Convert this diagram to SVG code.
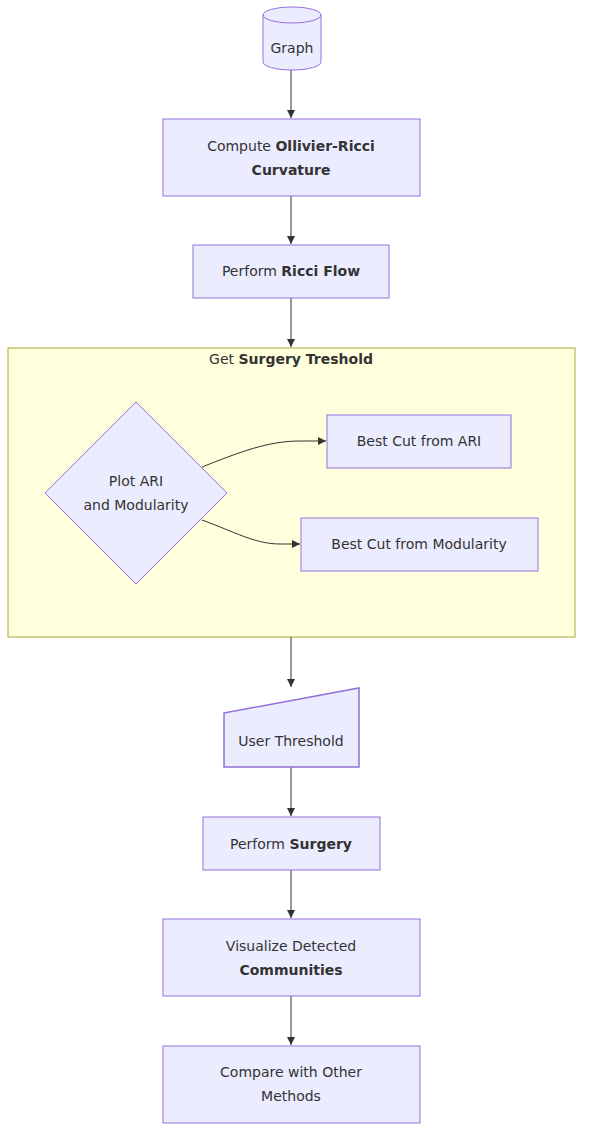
<svg xmlns="http://www.w3.org/2000/svg" width="591" height="1146" viewBox="0 0 591 1146">
<style>
.bg{fill:#ffffff}
.node{fill:#ECECFF;stroke:#9370DB;stroke-width:1}
.cluster{fill:#ffffde;stroke:#aaaa33;stroke-width:1}
.edge{fill:none;stroke:#333333;stroke-width:1}
text{font-family:"DejaVu Sans","Verdana",sans-serif;font-size:14px;fill:#333333;text-anchor:middle}
.b{font-weight:bold}
</style>
<defs>
<marker id="arrow" viewBox="0 0 10 10" refX="10" refY="5" markerWidth="8" markerHeight="8" markerUnits="userSpaceOnUse" orient="auto">
<path d="M0,0 L10,5 L0,10 z" fill="#333333"/>
</marker>
</defs>
<rect class="bg" x="0" y="0" width="591" height="1146"/>
<g id="cluster-surgery">
<rect class="cluster" x="8" y="348" width="567" height="289"/>
<text x="291" y="364">Get <tspan class="b">Surgery Treshold</tspan></text>
</g>
<g id="edges">
<path class="edge" d="M291,70 L291,118" marker-end="url(#arrow)"/>
<path class="edge" d="M291,196 L291,244" marker-end="url(#arrow)"/>
<path class="edge" d="M291,298 L291,347" marker-end="url(#arrow)"/>
<path class="edge" d="M202,467 C240,452 268,441 300,441 L326,441" marker-end="url(#arrow)"/>
<path class="edge" d="M202,520 C235,532 255,544 280,544 L300,544" marker-end="url(#arrow)"/>
<path class="edge" d="M291,637 L291,687" marker-end="url(#arrow)"/>
<path class="edge" d="M291,767 L291,816" marker-end="url(#arrow)"/>
<path class="edge" d="M291,870 L291,918" marker-end="url(#arrow)"/>
<path class="edge" d="M291,996 L291,1045" marker-end="url(#arrow)"/>
</g>
<g id="node-graph">
<path class="node" d="M263,15 a29,8 0 0,0 58,0 a29,8 0 0,0 -58,0 l0,47 a29,8 0 0,0 58,0 l0,-47"/>
<text x="292" y="53">Graph</text>
</g>
<g id="node-curvature">
<rect class="node" x="163" y="119" width="257" height="77"/>
<text x="291" y="151">Compute <tspan class="b">Ollivier-Ricci</tspan></text>
<text x="291" y="175" class="b">Curvature</text>
</g>
<g id="node-flow">
<rect class="node" x="193" y="245" width="196" height="53"/>
<text x="291" y="276">Perform <tspan class="b">Ricci Flow</tspan></text>
</g>
<g id="node-plot">
<polygon class="node" points="136,402 227,493 136,584 45,493"/>
<text x="136" y="486">Plot ARI</text>
<text x="136" y="510">and Modularity</text>
</g>
<g id="node-ari">
<rect class="node" x="327" y="415" width="184" height="53"/>
<text x="419" y="446">Best Cut from ARI</text>
</g>
<g id="node-mod">
<rect class="node" x="301" y="518" width="237" height="53"/>
<text x="419" y="549">Best Cut from Modularity</text>
</g>
<g id="node-threshold">
<polygon class="node" style="stroke-width:1.5" points="224,713 359,688 359,767 224,767"/>
<text x="291" y="746">User Threshold</text>
</g>
<g id="node-surgery">
<rect class="node" x="203" y="817" width="177" height="53"/>
<text x="291" y="849">Perform <tspan class="b">Surgery</tspan></text>
</g>
<g id="node-visualize">
<rect class="node" x="163" y="919" width="257" height="77"/>
<text x="291" y="951">Visualize Detected</text>
<text x="291" y="975" class="b">Communities</text>
</g>
<g id="node-compare">
<rect class="node" x="163" y="1046" width="257" height="77"/>
<text x="291" y="1077">Compare with Other</text>
<text x="291" y="1101">Methods</text>
</g>
</svg>
